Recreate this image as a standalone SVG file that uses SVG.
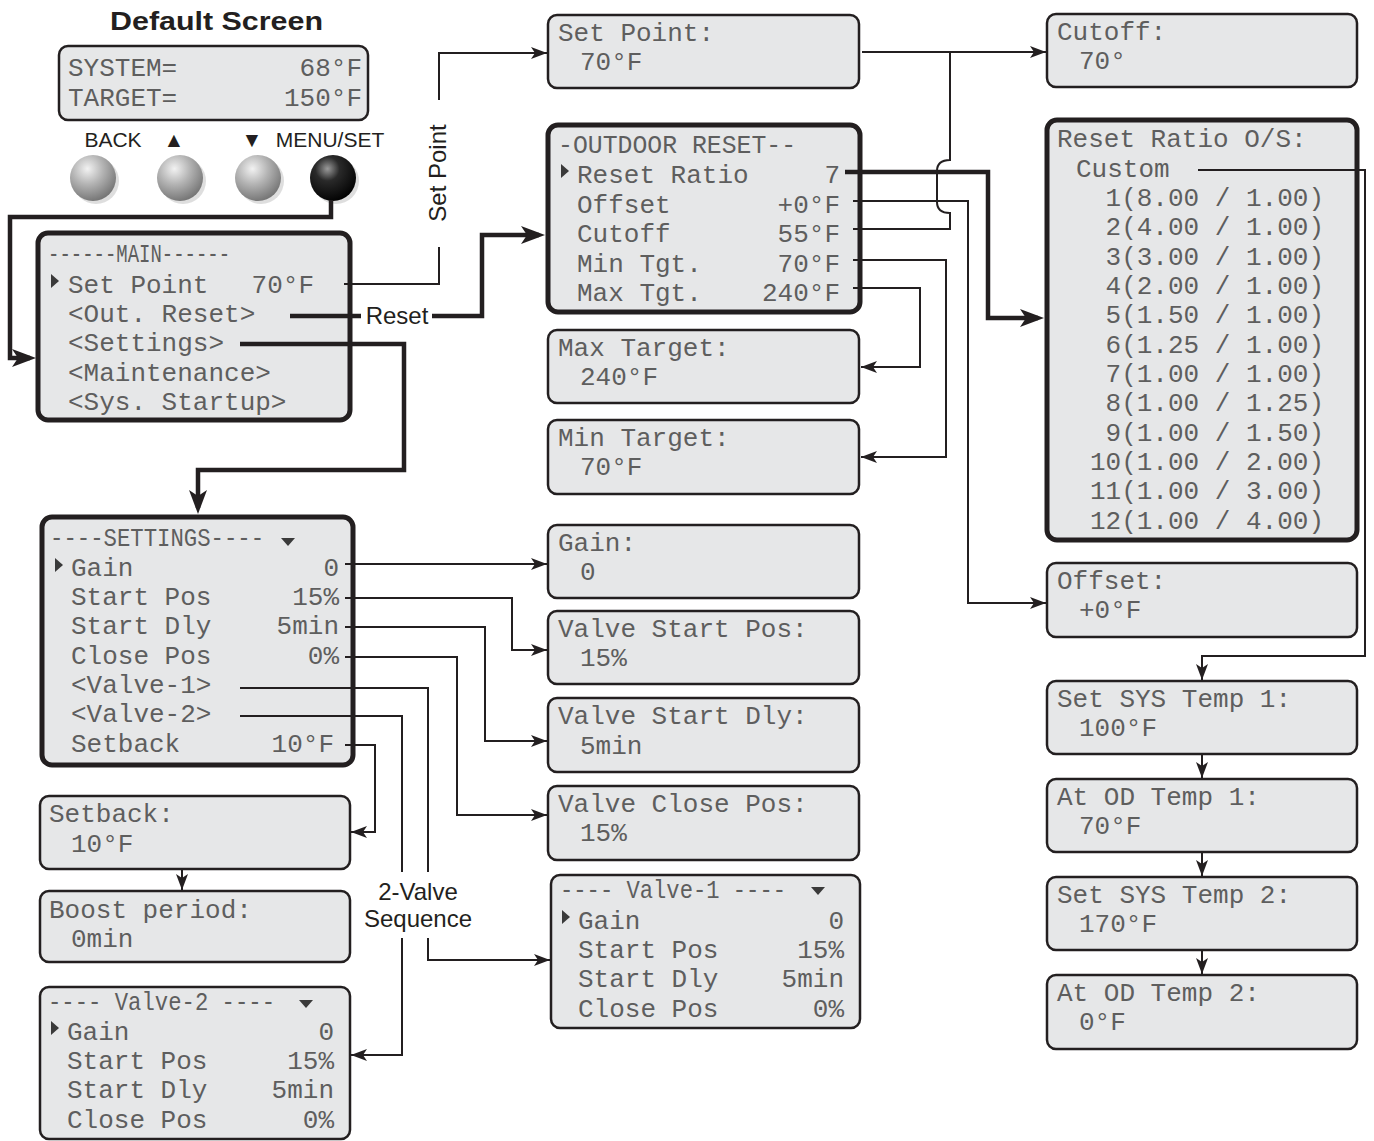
<svg xmlns="http://www.w3.org/2000/svg" width="1374" height="1141" viewBox="0 0 1374 1141">
<style>
.lcd{fill:#e6e7e8;stroke:#231f20;stroke-width:2.5}
.lcdb{fill:#e6e7e8;stroke:#231f20;stroke-width:5}
.t{font-family:"Liberation Mono","DejaVu Sans Mono",monospace;font-size:26px;fill:#5e5e5e}
.e{text-anchor:end}
.lbl{font-family:"Liberation Sans",Arial,sans-serif;font-size:21px;fill:#231f20}
.big{font-size:24px}
.title{font-family:"Liberation Sans",Arial,sans-serif;font-size:25.5px;font-weight:bold;fill:#231f20}
.thin{fill:none;stroke:#231f20;stroke-width:2}
.thick{fill:none;stroke:#231f20;stroke-width:4.5}
.ic{fill:#3a3a3a}
</style>
<defs>
<marker id="ah" viewBox="0 0 16 12" refX="16" refY="6" markerWidth="16" markerHeight="12" markerUnits="userSpaceOnUse" orient="auto"><path d="M0,0 L16,6 L0,12 L4,6 z" fill="#231f20"/></marker>
<marker id="ahb" viewBox="0 0 24 18" refX="18" refY="9" markerWidth="24" markerHeight="18" markerUnits="userSpaceOnUse" orient="auto"><path d="M0,0 L24,9 L0,18 L6,9 z" fill="#231f20"/></marker>
<radialGradient id="gBtn" cx="0.38" cy="0.3" r="0.75"><stop offset="0" stop-color="#f2f2f2"/><stop offset="0.45" stop-color="#b4b4b4"/><stop offset="1" stop-color="#707070"/></radialGradient>
<radialGradient id="kBtn" cx="0.38" cy="0.3" r="0.75"><stop offset="0" stop-color="#9a9a9a"/><stop offset="0.35" stop-color="#2a2a2a"/><stop offset="1" stop-color="#000"/></radialGradient>
</defs>

<g id="default-screen">
<text class="title" x="110" y="30" textLength="213" lengthAdjust="spacingAndGlyphs">Default Screen</text>
<rect class="lcd" x="59" y="46" width="309" height="74" rx="9"/>
<text class="t" x="68" y="76">SYSTEM=</text><text class="t e" x="362" y="76">68°F</text>
<text class="t" x="68" y="106">TARGET=</text><text class="t e" x="362" y="106">150°F</text>
</g>

<g id="buttons">
<text class="lbl" x="113" y="147" text-anchor="middle">BACK</text>
<text class="lbl" x="174" y="147" text-anchor="middle">▲</text>
<text class="lbl" x="252" y="147" text-anchor="middle">▼</text>
<text class="lbl" x="330" y="147" text-anchor="middle">MENU/SET</text>
<circle cx="96" cy="181" r="23" fill="#c8c8c8" opacity="0.6"/>
<circle cx="183" cy="181" r="23" fill="#c8c8c8" opacity="0.6"/>
<circle cx="261" cy="181" r="23" fill="#c8c8c8" opacity="0.6"/>
<circle cx="336" cy="181" r="23" fill="#c8c8c8" opacity="0.6"/>
<circle cx="93" cy="178" r="23" fill="url(#gBtn)"/>
<circle cx="180" cy="178" r="23" fill="url(#gBtn)"/>
<circle cx="258" cy="178" r="23" fill="url(#gBtn)"/>
<circle cx="333" cy="178" r="23" fill="url(#kBtn)"/>
</g>

<g id="main-menu">
<rect class="lcdb" x="38" y="233" width="312" height="187" rx="10"/>
<text class="t" x="48" y="262" textLength="182" lengthAdjust="spacingAndGlyphs">------MAIN------</text>
<polygon class="ic" points="51,274 59,281 51,288"/>
<text class="t" x="68" y="293">Set Point</text><text class="t e" x="314" y="293">70°F</text>
<text class="t" x="68" y="322">&lt;Out. Reset&gt;</text>
<text class="t" x="68" y="351">&lt;Settings&gt;</text>
<text class="t" x="68" y="381">&lt;Maintenance&gt;</text>
<text class="t" x="68" y="410">&lt;Sys. Startup&gt;</text>
</g>

<g id="set-point">
<rect class="lcd" x="548" y="15" width="311" height="73" rx="9"/>
<text class="t" x="558" y="41">Set Point:</text>
<text class="t" x="580" y="70">70°F</text>
</g>

<g id="outdoor-reset">
<rect class="lcdb" x="548" y="125" width="312" height="187" rx="10"/>
<text class="t" x="558" y="153" textLength="238" lengthAdjust="spacingAndGlyphs">-OUTDOOR RESET--</text>
<polygon class="ic" points="561,164 569,171 561,178"/>
<text class="t" x="577" y="183">Reset Ratio</text><text class="t e" x="840" y="183">7</text>
<text class="t" x="577" y="213">Offset</text><text class="t e" x="840" y="213">+0°F</text>
<text class="t" x="577" y="242">Cutoff</text><text class="t e" x="840" y="242">55°F</text>
<text class="t" x="577" y="272">Min Tgt.</text><text class="t e" x="840" y="272">70°F</text>
<text class="t" x="577" y="301">Max Tgt.</text><text class="t e" x="840" y="301">240°F</text>
</g>

<g id="max-target">
<rect class="lcd" x="548" y="330" width="311" height="73" rx="9"/>
<text class="t" x="558" y="356">Max Target:</text>
<text class="t" x="580" y="385">240°F</text>
</g>

<g id="min-target">
<rect class="lcd" x="548" y="420" width="311" height="74" rx="9"/>
<text class="t" x="558" y="446">Min Target:</text>
<text class="t" x="580" y="475">70°F</text>
</g>

<g id="gain">
<rect class="lcd" x="548" y="525" width="311" height="73" rx="9"/>
<text class="t" x="558" y="551">Gain:</text>
<text class="t" x="580" y="580">0</text>
</g>

<g id="valve-start-pos">
<rect class="lcd" x="548" y="611" width="311" height="73" rx="9"/>
<text class="t" x="558" y="637">Valve Start Pos:</text>
<text class="t" x="580" y="666">15%</text>
</g>

<g id="valve-start-dly">
<rect class="lcd" x="548" y="698" width="311" height="74" rx="9"/>
<text class="t" x="558" y="724">Valve Start Dly:</text>
<text class="t" x="580" y="754">5min</text>
</g>

<g id="valve-close-pos">
<rect class="lcd" x="548" y="786" width="311" height="74" rx="9"/>
<text class="t" x="558" y="812">Valve Close Pos:</text>
<text class="t" x="580" y="841">15%</text>
</g>

<g id="valve-1">
<rect class="lcd" x="551" y="875" width="309" height="153" rx="9"/>
<text class="t" x="560" y="898" textLength="226" lengthAdjust="spacingAndGlyphs">---- Valve-1 ----</text>
<polygon class="ic" points="811,887 825,887 818,895"/>
<polygon class="ic" points="562,910 570,917 562,924"/>
<text class="t" x="578" y="929">Gain</text><text class="t e" x="844" y="929">0</text>
<text class="t" x="578" y="958">Start Pos</text><text class="t e" x="844" y="958">15%</text>
<text class="t" x="578" y="987">Start Dly</text><text class="t e" x="844" y="987">5min</text>
<text class="t" x="578" y="1017">Close Pos</text><text class="t e" x="844" y="1017">0%</text>
</g>

<g id="settings">
<rect class="lcdb" x="42" y="517" width="311" height="248" rx="10"/>
<text class="t" x="50" y="546" textLength="214" lengthAdjust="spacingAndGlyphs">----SETTINGS----</text>
<polygon class="ic" points="281,538 295,538 288,546"/>
<polygon class="ic" points="55,558 63,565 55,572"/>
<text class="t" x="71" y="576">Gain</text><text class="t e" x="339" y="576">0</text>
<text class="t" x="71" y="605">Start Pos</text><text class="t e" x="339" y="605">15%</text>
<text class="t" x="71" y="634">Start Dly</text><text class="t e" x="339" y="634">5min</text>
<text class="t" x="71" y="664">Close Pos</text><text class="t e" x="339" y="664">0%</text>
<text class="t" x="71" y="693">&lt;Valve-1&gt;</text>
<text class="t" x="71" y="722">&lt;Valve-2&gt;</text>
<text class="t" x="71" y="752">Setback</text><text class="t e" x="334" y="752">10°F</text>
</g>

<g id="setback">
<rect class="lcd" x="40" y="796" width="310" height="73" rx="9"/>
<text class="t" x="49" y="822">Setback:</text>
<text class="t" x="71" y="852">10°F</text>
</g>

<g id="boost-period">
<rect class="lcd" x="40" y="891" width="310" height="71" rx="9"/>
<text class="t" x="49" y="918">Boost period:</text>
<text class="t" x="71" y="947">0min</text>
</g>

<g id="valve-2">
<rect class="lcd" x="40" y="987" width="310" height="152" rx="9"/>
<text class="t" x="48" y="1010" textLength="227" lengthAdjust="spacingAndGlyphs">---- Valve-2 ----</text>
<polygon class="ic" points="299,1000 313,1000 306,1008"/>
<polygon class="ic" points="51,1021 59,1028 51,1035"/>
<text class="t" x="67" y="1040">Gain</text><text class="t e" x="334" y="1040">0</text>
<text class="t" x="67" y="1069">Start Pos</text><text class="t e" x="334" y="1069">15%</text>
<text class="t" x="67" y="1098">Start Dly</text><text class="t e" x="334" y="1098">5min</text>
<text class="t" x="67" y="1128">Close Pos</text><text class="t e" x="334" y="1128">0%</text>
</g>

<g id="cutoff">
<rect class="lcd" x="1047" y="14" width="310" height="73" rx="9"/>
<text class="t" x="1057" y="40">Cutoff:</text>
<text class="t" x="1079" y="69">70°</text>
</g>

<g id="reset-ratio">
<rect class="lcdb" x="1047" y="120" width="310" height="420" rx="10"/>
<text class="t" x="1057" y="147">Reset Ratio O/S:</text>
<text class="t" x="1076" y="177">Custom</text>
<text class="t e" x="1324" y="206">1(8.00 / 1.00)</text>
<text class="t e" x="1324" y="235">2(4.00 / 1.00)</text>
<text class="t e" x="1324" y="265">3(3.00 / 1.00)</text>
<text class="t e" x="1324" y="294">4(2.00 / 1.00)</text>
<text class="t e" x="1324" y="323">5(1.50 / 1.00)</text>
<text class="t e" x="1324" y="353">6(1.25 / 1.00)</text>
<text class="t e" x="1324" y="382">7(1.00 / 1.00)</text>
<text class="t e" x="1324" y="411">8(1.00 / 1.25)</text>
<text class="t e" x="1324" y="441">9(1.00 / 1.50)</text>
<text class="t e" x="1324" y="470">10(1.00 / 2.00)</text>
<text class="t e" x="1324" y="499">11(1.00 / 3.00)</text>
<text class="t e" x="1324" y="529">12(1.00 / 4.00)</text>
</g>

<g id="offset">
<rect class="lcd" x="1047" y="563" width="310" height="74" rx="9"/>
<text class="t" x="1057" y="589">Offset:</text>
<text class="t" x="1079" y="618">+0°F</text>
</g>

<g id="set-sys-temp-1">
<rect class="lcd" x="1047" y="681" width="310" height="73" rx="9"/>
<text class="t" x="1057" y="707">Set SYS Temp 1:</text>
<text class="t" x="1079" y="736">100°F</text>
</g>

<g id="at-od-temp-1">
<rect class="lcd" x="1047" y="779" width="310" height="73" rx="9"/>
<text class="t" x="1057" y="805">At OD Temp 1:</text>
<text class="t" x="1079" y="834">70°F</text>
</g>

<g id="set-sys-temp-2">
<rect class="lcd" x="1047" y="877" width="310" height="73" rx="9"/>
<text class="t" x="1057" y="903">Set SYS Temp 2:</text>
<text class="t" x="1079" y="932">170°F</text>
</g>

<g id="at-od-temp-2">
<rect class="lcd" x="1047" y="975" width="310" height="74" rx="9"/>
<text class="t" x="1057" y="1001">At OD Temp 2:</text>
<text class="t" x="1079" y="1030">0°F</text>
</g>

<g id="connectors">
<path class="thick" d="M331,200 V217 H10 V358 H30" marker-end="url(#ahb)"/>
<path class="thin" d="M344,284 H439 V247"/>
<path class="thin" d="M439,100 V53 H547" marker-end="url(#ah)"/>
<text class="lbl big" transform="translate(446,173) rotate(-90)" text-anchor="middle">Set Point</text>
<path class="thick" d="M290,316 H361"/>
<text class="lbl big" x="397" y="324" text-anchor="middle">Reset</text>
<path class="thick" d="M432,316 H482 V235 H539" marker-end="url(#ahb)"/>
<path class="thick" d="M240,344 H404 V470 H198 V508" marker-end="url(#ahb)"/>
<path class="thin" d="M862,52 H1046" marker-end="url(#ah)"/>
<path class="thin" d="M853,229 H950 V213 C941,213 937,209 937,202 V171 C937,164 941,160 950,160 V52"/>
<path class="thick" d="M845,172 H988 V318 H1038" marker-end="url(#ahb)"/>
<path class="thin" d="M853,201 H968 V603 H1046" marker-end="url(#ah)"/>
<path class="thin" d="M853,260 H946 V457 H861" marker-end="url(#ah)"/>
<path class="thin" d="M853,288 H920 V367 H861" marker-end="url(#ah)"/>
<path class="thin" d="M1198,170 H1365 V656 H1202 V680" marker-end="url(#ah)"/>
<path class="thin" d="M1202,755 V778" marker-end="url(#ah)"/>
<path class="thin" d="M1202,853 V876" marker-end="url(#ah)"/>
<path class="thin" d="M1202,951 V974" marker-end="url(#ah)"/>
<path class="thin" d="M345,564 H547" marker-end="url(#ah)"/>
<path class="thin" d="M345,598 H512 V650 H547" marker-end="url(#ah)"/>
<path class="thin" d="M345,627 H485 V741 H547" marker-end="url(#ah)"/>
<path class="thin" d="M345,657 H457 V815 H547" marker-end="url(#ah)"/>
<path class="thin" d="M240,688 H428 V872"/>
<path class="thin" d="M428,938 V960 H550" marker-end="url(#ah)"/>
<path class="thin" d="M240,716 H402 V872"/>
<path class="thin" d="M402,938 V1055 H351" marker-end="url(#ah)"/>
<path class="thin" d="M345,745 H375 V832 H351" marker-end="url(#ah)"/>
<path class="thin" d="M182,870 V890" marker-end="url(#ah)"/>
<text class="lbl big" x="418" y="900" text-anchor="middle">2-Valve</text>
<text class="lbl big" x="418" y="927" text-anchor="middle">Sequence</text>
</g>
</svg>
